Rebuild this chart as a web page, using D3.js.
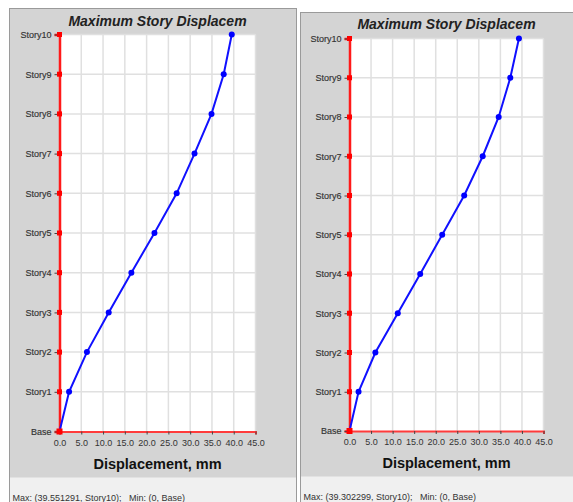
<!DOCTYPE html>
<html><head><meta charset="utf-8">
<script src="https://cdn.jsdelivr.net/npm/d3@7"></script>
<style>body{margin:0;background:#fff}svg{display:block}text{font-family:"Liberation Sans",Arial,sans-serif}.status{white-space:pre}</style>
</head><body>
<script>
const stories = ["Base","Story1","Story2","Story3","Story4","Story5","Story6","Story7","Story8","Story9","Story10"];
const dispLeft  = [0, 2.2, 6.3, 11.3, 16.5, 21.8, 26.9, 31.0, 34.9, 37.7, 39.551291];
const dispRight = [0, 2.1, 6.0, 11.2, 16.4, 21.5, 26.6, 30.9, 34.6, 37.3, 39.302299];
const xTicks = [0,5,10,15,20,25,30,35,40,45];
const titleText = "Maximum Story Displacem";
const xTitle = "Displacement, mm";
const statusLeft = "Max: (39.551291, Story10);   Min: (0, Base)";
const statusRight = "Max: (39.302299, Story10);   Min: (0, Base)";

const W = 573, H = 502;
const svg = d3.select("body").append("svg").attr("width", W).attr("height", H);

function panel(p, values, status) {
  const g = svg.append("g");
  g.append("rect").attr("x", p.fx).attr("y", p.fy).attr("width", p.fw).attr("height", H - p.fy + 2)
    .attr("fill", "#f0f0f0").attr("stroke", "#9a9a9a").attr("stroke-width", 1);
  g.append("rect").attr("x", p.fx + 0.5).attr("y", p.fy + 0.5).attr("width", p.fw - 1).attr("height", p.gb - p.fy)
    .attr("fill", "#d4d4d4");
  const x = d3.scaleLinear().domain([0, 45]).range([p.x0, p.x1]);
  const y = d3.scalePoint().domain(stories).range([p.yb, p.yt]).padding(0);
  g.append("rect").attr("x", p.x0).attr("y", p.yt).attr("width", p.x1 - p.x0).attr("height", p.yb - p.yt).attr("fill", "#fff");
  g.selectAll(".gv").data(xTicks.slice(1)).join("line")
    .attr("x1", d => x(d)).attr("x2", d => x(d)).attr("y1", p.yt).attr("y2", p.yb)
    .attr("stroke", "#e0e0e0").attr("stroke-width", 1.5);
  g.selectAll(".gh").data(stories.slice(1)).join("line")
    .attr("x1", p.x0).attr("x2", p.x1).attr("y1", d => y(d)).attr("y2", d => y(d))
    .attr("stroke", "#e0e0e0").attr("stroke-width", 1.5);
  const xa = g.append("g").attr("transform", `translate(0,${p.yb})`)
    .call(d3.axisBottom(x).tickValues(xTicks).tickFormat(d3.format(".1f")).tickSize(3).tickPadding(5));
  xa.select(".domain").attr("stroke", "#ff3b3b").attr("stroke-width", 2);
  xa.selectAll(".tick line").attr("stroke", "#444");
  xa.selectAll(".tick text").attr("font-size", 9).attr("fill", "#333").attr("font-family", "Liberation Sans, Arial");
  const ya = g.append("g").attr("transform", `translate(${p.x0},0)`)
    .call(d3.axisLeft(y).tickSize(5).tickPadding(3));
  ya.select(".domain").attr("stroke", "#ff1a1a").attr("stroke-width", 2.5);
  ya.selectAll(".tick line").attr("stroke", "#444");
  ya.selectAll(".tick text").attr("font-size", 9).attr("fill", "#333").attr("stroke", "#333").attr("stroke-width", 0.15)
    .attr("font-family", "Liberation Sans, Arial");
  g.selectAll(".rm").data(stories).join("rect")
    .attr("x", p.x0 - 2.5).attr("y", d => y(d) - 2.5).attr("width", 5).attr("height", 5).attr("fill", "#ff0000");
  const pts = stories.map((s, i) => [x(values[i]), y(s)]);
  g.append("path").attr("d", d3.line()(pts)).attr("fill", "none").attr("stroke", "#1010ff").attr("stroke-width", 2);
  g.selectAll(".bm").data(pts.slice(1)).join("circle")
    .attr("cx", d => d[0]).attr("cy", d => d[1]).attr("r", 3).attr("fill", "#0000ff");
  g.append("rect").attr("x", p.x0 - 3).attr("y", y("Base") - 3).attr("width", 6).attr("height", 6).attr("fill", "#ff0000");
  g.append("text").attr("x", p.tx).attr("y", p.ty).attr("text-anchor", "middle")
    .attr("font-size", 14).attr("font-weight", "bold").attr("font-style", "italic").attr("fill", "#222").text(titleText);
  g.append("text").attr("x", (p.x0 + p.x1) / 2).attr("y", p.yb + 37).attr("text-anchor", "middle")
    .attr("font-size", 14.5).attr("font-weight", "bold").attr("fill", "#111").text(xTitle);
  g.append("text").attr("class", "status").attr("x", p.fx + 3).attr("y", p.sy).attr("font-size", 9).attr("fill", "#333")
    .attr("font-family", "Liberation Sans, Arial").text(status);
}

panel({fx: 9.5, fy: 8.5, fw: 287, gb: 477, x0: 59.5, x1: 255.5, yt: 34.5, yb: 431.5, tx: 157.5, ty: 26, sy: 501}, dispLeft, statusLeft);
panel({fx: 300.5, fy: 12.5, fw: 280, gb: 476, x0: 349.5, x1: 543.5, yt: 38.5, yb: 431, tx: 446.5, ty: 29, sy: 500}, dispRight, statusRight);
</script>
</body></html>
